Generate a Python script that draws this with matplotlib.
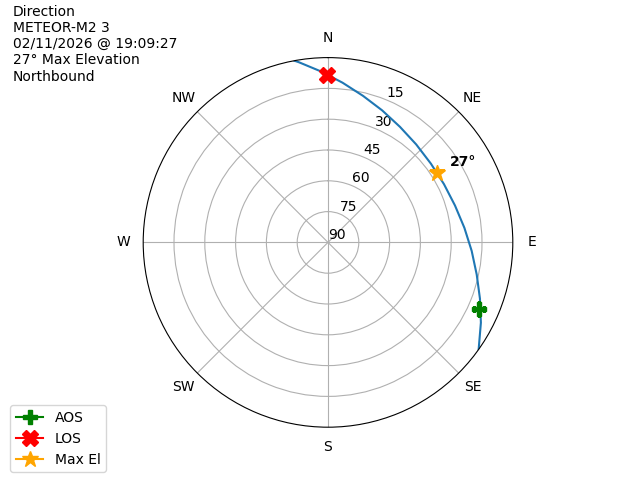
import numpy as np
import matplotlib
matplotlib.use("Agg")
import matplotlib.pyplot as plt

# pass info
title_lines = ["Direction", "METEOR-M2 3", "02/11/2026 @ 19:09:27",
               "27° Max Elevation", "Northbound"]

# pass track (azimuth deg, elevation deg)
track_az = [125.4, 117.7, 110.3, 102.2, 93.4, 83.9, 73.8, 63.3, 52.6,
            42.0, 31.9, 22.3, 13.4, 5.2, -2.3, -9.2, -10.5]
track_el = [0, 5.9, 11.1, 15.9, 19.9, 23.2, 25.6, 26.8, 26.9,
            25.8, 23.7, 20.5, 16.6, 11.9, 6.7, 1.1, 0]

aos_az, aos_el = 114.0, 9.7
los_az, los_el = 359.6, 8.3
max_az, max_el = 57.7, 27

compass = ["N", "NE", "E", "SE", "S", "SW", "W", "NW"]
el_ticks = [90, 75, 60, 45, 30, 15]

fig = plt.figure(figsize=(6.4, 4.8), dpi=100)
ax = fig.add_subplot(111, projection="polar")
ax.set_theta_zero_location("N")
ax.set_theta_direction(-1)

r = [90 - e for e in track_el]
ax.plot(np.radians(track_az), r, color="C0")

ax.plot(np.radians(aos_az), 90 - aos_el, marker="P", color="green",
        markersize=10, label="AOS")
ax.plot(np.radians(los_az), 90 - los_el, marker="X", color="red",
        markersize=12, label="LOS")
ax.plot(np.radians(max_az), 90 - max_el, marker="*", color="orange",
        markersize=12, label="Max El")
ax.annotate(f"{max_el}°", (np.radians(max_az), 90 - max_el),
            xytext=(9, 3), textcoords="offset points",
            ha="left", va="bottom", fontweight="bold")

ax.set_xticks(np.radians(np.arange(0, 360, 45)))
ax.set_xticklabels(compass)
ax.set_rticks([90 - e for e in el_ticks])
ax.set_yticklabels([str(e) for e in el_ticks])
ax.set_rmax(90)
ax.set_rmin(0)
ax.grid(True)

fig.text(0.02, 0.99, "\n".join(title_lines), ha="left", va="top")
fig.legend(loc="lower left", bbox_to_anchor=(0.005, 0.002))

fig.savefig("out.png", dpi=100)
